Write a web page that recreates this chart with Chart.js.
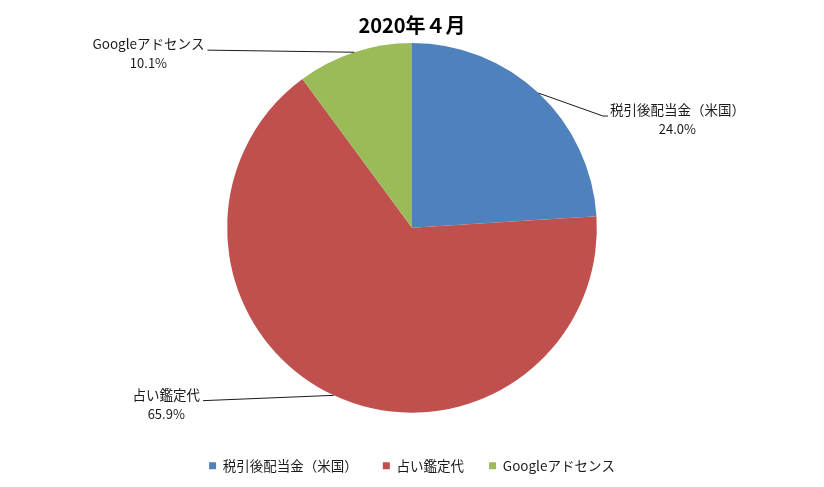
<!DOCTYPE html>
<html><head><meta charset="utf-8">
<script src="https://cdn.jsdelivr.net/npm/chart.js@4/dist/chart.umd.min.js"></script>
<style>html,body{margin:0;padding:0;background:#fff}#wrap{width:824px;height:487px;position:relative}</style>
</head><body><div id="wrap"><canvas id="c"></canvas></div>
<script>
const titleText = '2020年４月';
const categories = ['税引後配当金（米国）', '占い鑑定代', 'Googleアドセンス'];
const values = [24.0, 65.9, 10.1];
const sliceColors = ['#4F81BD', '#C0504D', '#9BBB59'];

const FONT = '"Noto Sans CJK JP", "Noto Sans", sans-serif';
Chart.defaults.font.family = FONT;
Chart.defaults.color = '#1a1a1a';

const leaderLabels = {
  id: 'leaderLabels',
  afterDatasetsDraw(chart, args, opts) {
    const ctx = chart.ctx;
    const meta = chart.getDatasetMeta(0);
    const data = chart.data.datasets[0].data;
    const total = data.reduce((a, b) => a + b, 0);
    meta.data.forEach((arc, i) => {
      const p = arc.getProps(['x', 'y', 'startAngle', 'endAngle', 'outerRadius'], true);
      const mid = (p.startAngle + p.endAngle) / 2;
      const ex = p.x + Math.cos(mid) * p.outerRadius;
      const ey = p.y + Math.sin(mid) * p.outerRadius;
      const off = opts.offsets[i];
      const bx = ex + off[0], by = ey + off[1];
      const right = off[0] > 0;
      ctx.save();
      ctx.strokeStyle = opts.lineColor;
      ctx.lineWidth = 1;
      ctx.beginPath();
      ctx.moveTo(ex, ey);
      ctx.lineTo(bx, by);
      if (right) ctx.lineTo(bx + opts.tail, by);
      ctx.stroke();
      ctx.fillStyle = opts.textColor;
      ctx.textAlign = 'center';
      ctx.textBaseline = 'middle';
      const name = chart.data.labels[i];
      const pct = (data[i] / total * 100).toFixed(1) + '%';
      ctx.font = opts.fontSize + 'px ' + FONT;
      const w = ctx.measureText(name).width;
      const cx = right ? bx + opts.tail + 2 + w / 2 : bx - 3 - w / 2;
      ctx.fillText(name, cx, by - 6);
      ctx.font = opts.pctSize + 'px ' + FONT;
      ctx.fillText(pct, cx, by + 13);
      ctx.restore();
    });
  }
};

new Chart(document.getElementById('c'), {
  type: 'pie',
  data: {
    labels: categories,
    datasets: [{
      data: values,
      backgroundColor: sliceColors,
      borderWidth: 0
    }]
  },
  options: {
    responsive: true,
    maintainAspectRatio: false,
    animation: false,
    events: [],
    layout: { padding: { top: 0, bottom: 4.5, left: 0, right: 0 } },
    plugins: {
      tooltip: { enabled: false },
      title: {
        display: true,
        text: titleText,
        color: '#000',
        font: { size: 20, weight: 'bold', family: FONT },
        padding: { top: 13, bottom: 6 }
      },
      legend: {
        display: true,
        position: 'bottom',
        title: { display: true, text: ' ', font: { size: 12 }, padding: { top: 6.9, bottom: 0 } },
        labels: {
          boxWidth: 7,
          boxHeight: 7,
          padding: 25,
          color: '#1a1a1a',
          font: { size: 13.5, family: FONT }
        }
      },
      leaderLabels: {
        offsets: [[64.4, 22.9], [-130.8, 5.3], [-146.8, -2.1]],
        tail: 5,
        lineColor: '#1a1a1a',
        textColor: '#1a1a1a',
        fontSize: 13.5,
        pctSize: 13
      }
    }
  },
  plugins: [leaderLabels]
});
</script>
</body></html>
